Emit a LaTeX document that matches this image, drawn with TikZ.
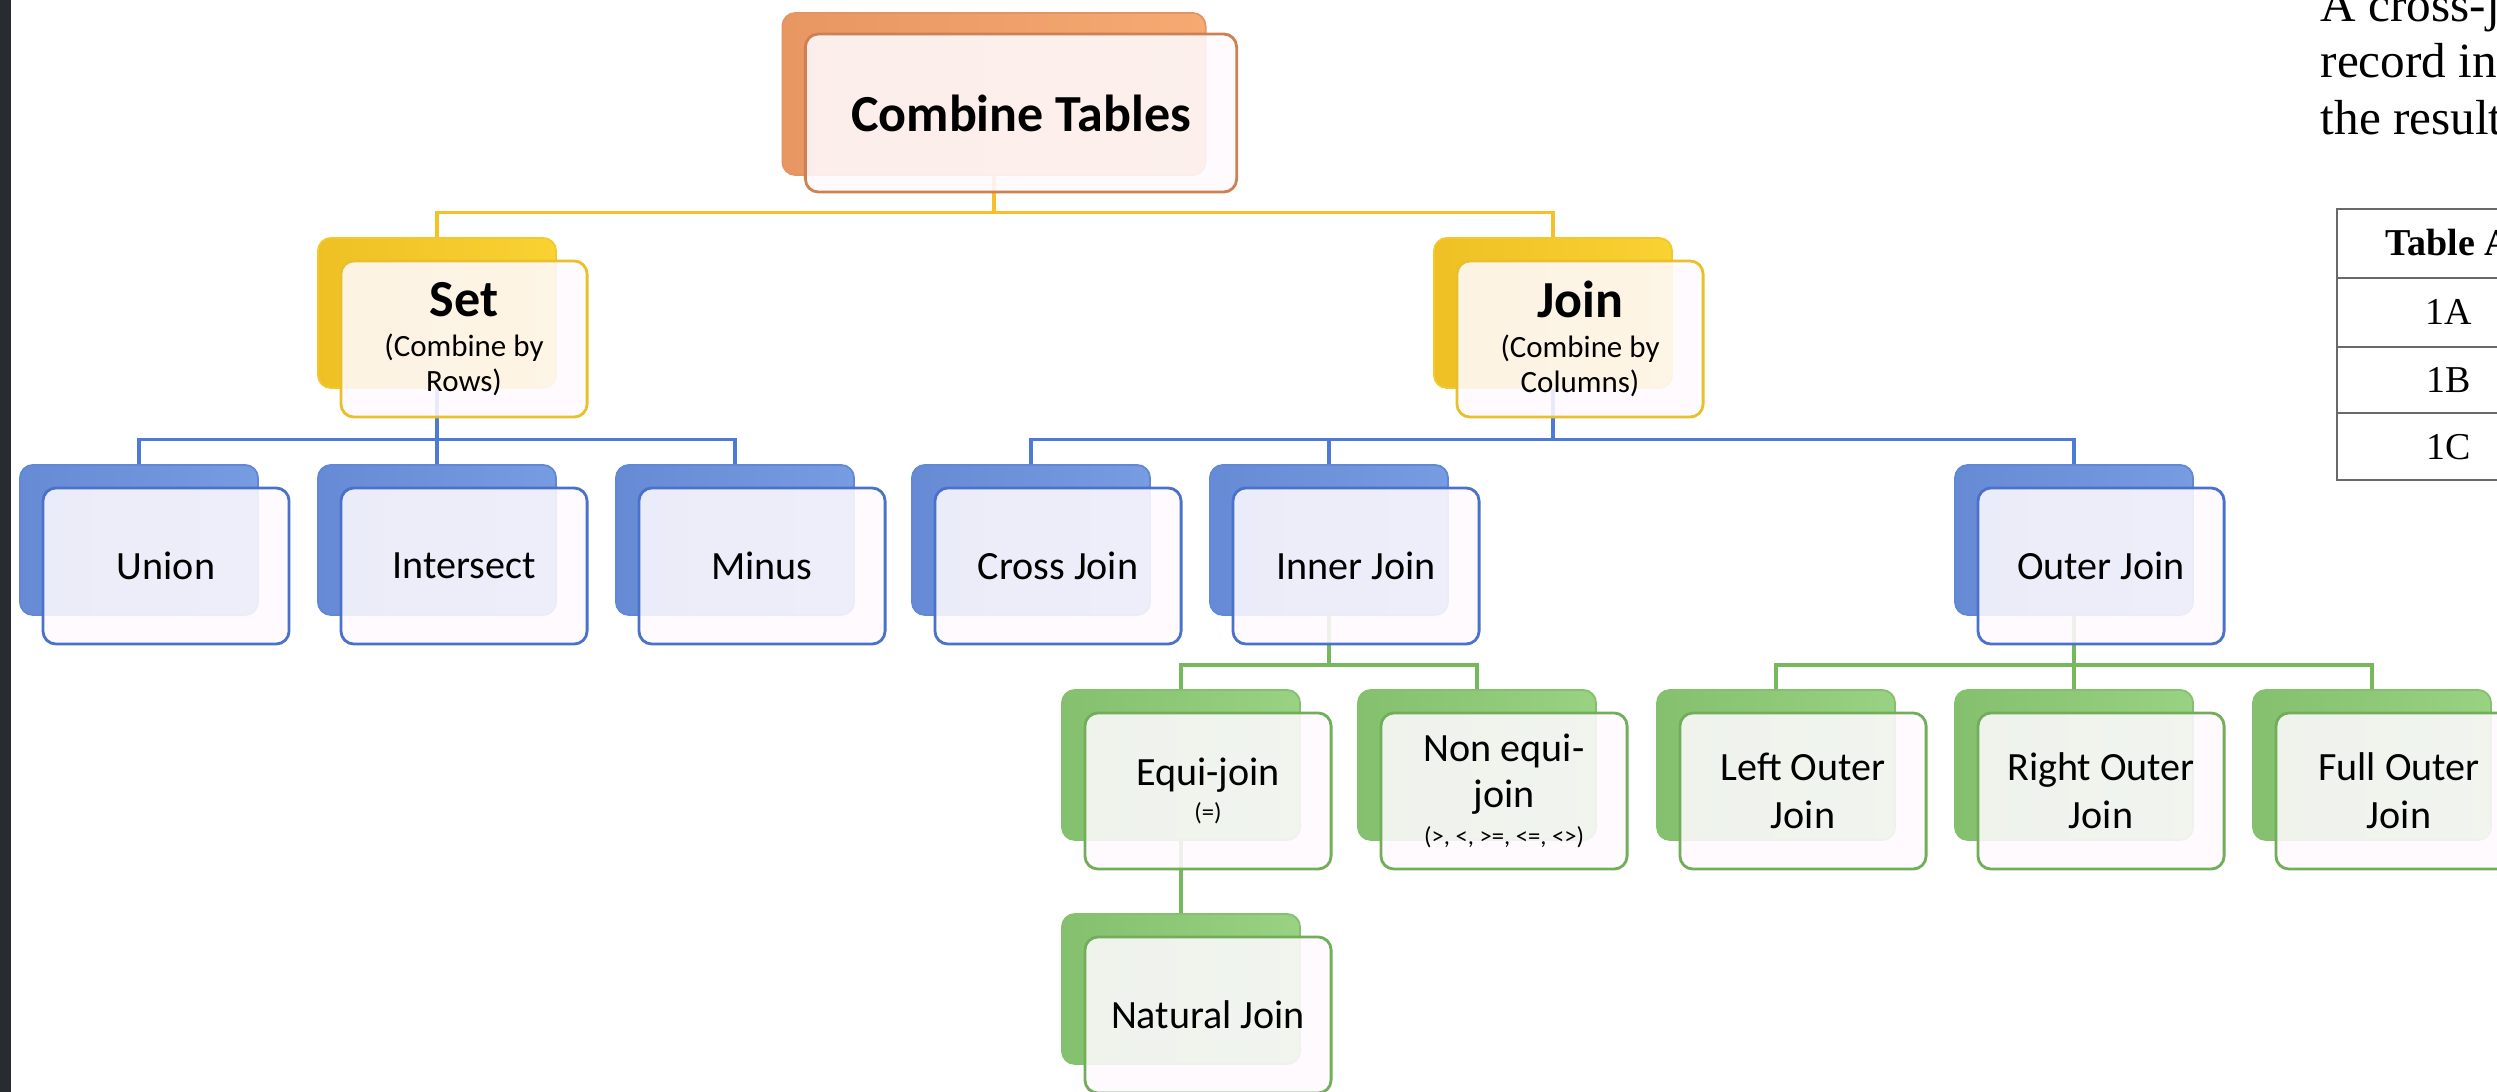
\documentclass[tikz,border=0pt]{standalone}
\usepackage{fontspec}
\setmainfont{Carlito}
\newfontfamily\seriffont{Liberation Serif}
\usepackage{tikz}

\definecolor{orangeback}{RGB}{246,170,114}
\definecolor{orangedark}{RGB}{232,150,98}
\definecolor{orangeline}{RGB}{205,128,82}
\definecolor{goldback}{RGB}{250,210,50}
\definecolor{golddark}{RGB}{238,192,36}
\definecolor{goldline}{RGB}{232,192,44}
\definecolor{blueback}{RGB}{120,156,226}
\definecolor{bluedark}{RGB}{102,138,212}
\definecolor{blueline}{RGB}{74,114,202}
\definecolor{greenback}{RGB}{152,210,130}
\definecolor{greendark}{RGB}{132,192,110}
\definecolor{greenline}{RGB}{114,174,90}
\definecolor{goldlink}{RGB}{248,192,40}
\definecolor{bluelink}{RGB}{76,122,214}
\definecolor{greenlink}{RGB}{118,184,92}
\definecolor{frontfill}{RGB}{254,250,254}
\definecolor{sidebar}{RGB}{40,44,48}
\definecolor{tablerule}{RGB}{105,105,105}

\newcommand{\boxfont}{\fontsize{11.4}{13.7}\selectfont}
\newcommand{\headfont}{\bfseries\fontsize{14.8}{17}\selectfont}
\newcommand{\notefont}{\fontsize{8.8}{10}\selectfont}
\newcommand{\opfont}{\fontsize{7}{8.4}\selectfont}
\newcommand{\parafont}{\seriffont\fontsize{14}{16}\selectfont}
\newcommand{\cellfont}{\seriffont\fontsize{10.8}{13}\selectfont}

\tikzset{
  backbox/.style={rounded corners=1.3mm, minimum width=2.38cm, minimum height=1.5cm,
    inner sep=0pt, draw=#1line!50!#1back, line width=0.5pt, left color=#1dark, right color=#1back},
  frontbox/.style={rounded corners=1.3mm, minimum width=2.46cm, minimum height=1.56cm,
    inner sep=0pt, draw=#1line, line width=0.8pt, fill=frontfill, fill opacity=0.88,
    text opacity=1, align=center, xshift=0.27cm, yshift=-0.26cm, font=\boxfont},
  branch/.style={draw=#1link, line width=0.9pt},
  paratext/.style={font=\parafont, inner sep=0pt, anchor=base west},
  celltext/.style={font=\cellfont, inner sep=0pt}
}

\begin{document}
\begin{tikzpicture}[x=0.01cm, y=-0.01cm]
  \useasboundingbox (0,0) rectangle (2497,1092);
  \clip (0,0) rectangle (2497,1092);
  \fill[white] (0,0) rectangle (2497,1092);
  \fill[sidebar] (0,0) rectangle (11,1092);

  % back shapes
  \node[backbox=orange, minimum width=4.23cm, minimum height=1.62cm] (combine) at (994,94) {};
  \node[backbox=gold] (set) at (437,313) {};
  \node[backbox=gold] (join) at (1553,313) {};
  \node[backbox=blue] (union) at (139,540) {};
  \node[backbox=blue] (intersect) at (437,540) {};
  \node[backbox=blue] (minus) at (735,540) {};
  \node[backbox=blue] (cross) at (1031,540) {};
  \node[backbox=blue] (inner) at (1329,540) {};
  \node[backbox=blue] (outer) at (2074,540) {};
  \node[backbox=green] (equi) at (1181,765) {};
  \node[backbox=green] (nonequi) at (1477,765) {};
  \node[backbox=green] (leftouter) at (1776,765) {};
  \node[backbox=green] (rightouter) at (2074,765) {};
  \node[backbox=green] (fullouter) at (2372,765) {};
  \node[backbox=green] (natural) at (1181,989) {};

  % connectors
  \draw[branch=gold] (combine.south) -- ++(0,37) -| (set.north);
  \draw[branch=gold] (combine.south) -- ++(0,37) -| (join.north);
  \draw[branch=blue] (set.south) -- ++(0,51) -| (union.north);
  \draw[branch=blue] (set.south) -- (intersect.north);
  \draw[branch=blue] (set.south) -- ++(0,51) -| (minus.north);
  \draw[branch=blue] (join.south) -- ++(0,51) -| (cross.north);
  \draw[branch=blue] (join.south) -- ++(0,51) -| (inner.north);
  \draw[branch=blue] (join.south) -- ++(0,51) -| (outer.north);
  \draw[branch=green] (inner.south) -- ++(0,49) -| (equi.north);
  \draw[branch=green] (inner.south) -- ++(0,49) -| (nonequi.north);
  \draw[branch=green] (outer.south) -- ++(0,49) -| (leftouter.north);
  \draw[branch=green] (outer.south) -- (rightouter.north);
  \draw[branch=green] (outer.south) -- ++(0,49) -| (fullouter.north);
  \draw[branch=green] (equi.south) -- (natural.north);

  % front shapes and texts
  \node[frontbox=orange, minimum width=4.31cm, minimum height=1.58cm, yshift=0.07cm, font=\headfont] (combine-t) at (combine) {Combine Tables};
  \node[frontbox=gold] (set-t) at (set) {{\headfont Set}\\[-2.2pt]{\notefont (Combine by}\\[-3.7pt]{\notefont Rows)}};
  \node[frontbox=gold] (join-t) at (join) {{\headfont Join}\\[-2.2pt]{\notefont (Combine by}\\[-3.7pt]{\notefont Columns)}};
  \node[frontbox=blue] (union-t) at (union) {Union};
  \node[frontbox=blue] (intersect-t) at (intersect) {Intersect};
  \node[frontbox=blue] (minus-t) at (minus) {Minus};
  \node[frontbox=blue] (cross-t) at (cross) {Cross Join};
  \node[frontbox=blue] (inner-t) at (inner) {Inner Join};
  \node[frontbox=blue] (outer-t) at (outer) {Outer Join};
  \node[frontbox=green] (equi-t) at (equi) {Equi-join\\[-3.7pt]{\opfont (=)}};
  \node[frontbox=green] (nonequi-t) at (nonequi) {Non equi-\\[-0.6pt]join\\[-3pt]{\opfont (>, <, >=, <=, <>)}};
  \node[frontbox=green] (leftouter-t) at (leftouter) {Left Outer\\Join};
  \node[frontbox=green] (rightouter-t) at (rightouter) {Right Outer\\Join};
  \node[frontbox=green] (fullouter-t) at (fullouter) {Full Outer\\Join};
  \node[frontbox=green] (natural-t) at (natural) {Natural Join};

  % page text on the right
  \node[paratext] (line1) at (2320,22) {A cross-j};
  \node[paratext] (line2) at (2320,78) {record in};
  \node[paratext] (line3) at (2320,135) {the result};

  \draw[tablerule, line width=0.6pt] (2497,209) -- (2337,209) -- (2337,480) -- (2497,480);
  \draw[tablerule, line width=0.6pt] (2337,278) -- (2497,278);
  \draw[tablerule, line width=0.6pt] (2337,347) -- (2497,347);
  \draw[tablerule, line width=0.6pt] (2337,413) -- (2497,413);
  \node[celltext, font=\cellfont\bfseries] (head) at (2449,243) {Table A};
  \node[celltext] (cell1) at (2449,312) {1A};
  \node[celltext] (cell2) at (2449,380) {1B};
  \node[celltext] (cell3) at (2449,447) {1C};
\end{tikzpicture}
\end{document}
